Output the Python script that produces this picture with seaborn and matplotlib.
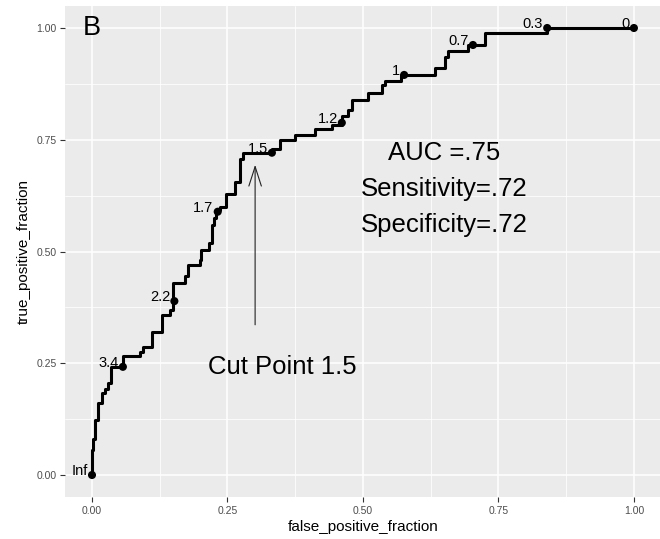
import matplotlib
matplotlib.use("Agg")
import matplotlib.pyplot as plt
import seaborn as sns
import pandas as pd

# ROC step path vertices (false positive fraction, true positive fraction)
fpf = [0.000, 0.0024, 0.006, 0.0105, 0.018, 0.024, 0.029, 0.035, 0.058, 0.089,
       0.095, 0.110, 0.129, 0.144, 0.150, 0.171, 0.178, 0.199, 0.202, 0.215,
       0.221, 0.225, 0.229, 0.236, 0.247, 0.264, 0.274, 0.279, 0.333, 0.347,
       0.375, 0.411, 0.442, 0.461, 0.472, 0.479, 0.510, 0.535, 0.541, 0.571,
       0.633, 0.651, 0.657, 0.694, 0.725, 0.840, 1.000]
tpf = [0.000, 0.056, 0.080, 0.123, 0.160, 0.184, 0.192, 0.205, 0.242, 0.267,
       0.276, 0.287, 0.321, 0.358, 0.369, 0.429, 0.445, 0.470, 0.481, 0.503,
       0.518, 0.559, 0.574, 0.593, 0.600, 0.628, 0.656, 0.708, 0.721, 0.730,
       0.749, 0.761, 0.774, 0.783, 0.803, 0.817, 0.840, 0.855, 0.872, 0.882,
       0.895, 0.910, 0.936, 0.949, 0.962, 0.988, 1.000]

# labelled cutoff points
cut_labels = ["Inf", "3.4", "2.2", "1.7", "1.5", "1.2", "1", "0.7", "0.3", "0"]
cut_fpf = [0.000, 0.057, 0.152, 0.232, 0.332, 0.461, 0.576, 0.703, 0.840, 1.000]
cut_tpf = [0.000, 0.242, 0.389, 0.589, 0.721, 0.788, 0.895, 0.962, 1.000, 1.000]

stats_lines = ["AUC =.75", "Sensitivity=.72", "Specificity=.72"]
cut_text = "Cut Point 1.5"
panel_tag = "B"

sns.set_theme(style="darkgrid")
plt.rcParams.update({
    "axes.facecolor": "#EBEBEB",
    "grid.color": "white",
    "axes.edgecolor": "#EBEBEB",
    "axes.linewidth": 0,
    "xtick.color": "#333333",
    "ytick.color": "#333333",
    "xtick.labelcolor": "#4D4D4D",
    "ytick.labelcolor": "#4D4D4D",
})
plt.rcParams["font.family"] = ["Liberation Sans", "DejaVu Sans"]

fig = plt.figure(figsize=(6.6, 5.39), dpi=100)
fig.patch.set_facecolor("white")
ax = fig.add_axes([64.9 / 660, (539 - 497.35) / 539, (661 - 64.9) / 660, (497.35 - 5.65) / 539])

roc = pd.DataFrame({"false_positive_fraction": fpf, "true_positive_fraction": tpf})
pts = pd.DataFrame({"x": cut_fpf, "y": cut_tpf, "lab": cut_labels})

sns.lineplot(data=roc, x="false_positive_fraction", y="true_positive_fraction",
             sort=False, estimator=None, drawstyle="steps-pre",
             color="black", linewidth=2.2, ax=ax, zorder=3)
sns.scatterplot(data=pts, x="x", y="y", color="black", s=34, edgecolor="none",
                ax=ax, zorder=4)

for _, r in pts.iterrows():
    ax.annotate(r["lab"], (r["x"], r["y"]), xytext=(-3, 3), textcoords="offset points",
                ha="right", va="center", fontsize=10.5, color="black", zorder=5)

ax.set_xlim(-0.05, 1.05)
ax.set_ylim(-0.05, 1.05)
ticks = [0, 0.25, 0.5, 0.75, 1.0]
ax.set_xticks(ticks)
ax.set_yticks(ticks)
ax.set_xticklabels(["0.00", "0.25", "0.50", "0.75", "1.00"], fontsize=7.5)
ax.set_yticklabels(["0.00", "0.25", "0.50", "0.75", "1.00"], fontsize=7.5)
ax.set_xticks([0.125, 0.375, 0.625, 0.875], minor=True)
ax.set_yticks([0.125, 0.375, 0.625, 0.875], minor=True)
ax.grid(which="major", color="white", linewidth=1.1)
ax.grid(which="minor", color="white", linewidth=0.55)
ax.tick_params(which="major", length=3.5, width=0.8, pad=2.5, bottom=True, left=True)
ax.tick_params(which="minor", length=0)
for s in ax.spines.values():
    s.set_visible(False)

ax.set_xlabel("false_positive_fraction", fontsize=11, color="black", labelpad=3)
ax.set_ylabel("true_positive_fraction", fontsize=11, color="black", labelpad=4)

ax.text(0.0, 1.0, panel_tag, fontsize=19.5, ha="center", va="center", color="black")

ys = [0.705, 0.624, 0.544]
for t, yv in zip(stats_lines, ys):
    ax.text(0.65, yv, t, fontsize=18.5, ha="center", va="baseline", color="black")

ax.text(0.351, 0.226, cut_text, fontsize=18.5, ha="center", va="baseline", color="black")

ax.annotate("", xy=(0.301, 0.694), xytext=(0.301, 0.336),
            arrowprops=dict(arrowstyle="->,head_length=1.4,head_width=0.45",
                            mutation_scale=10, color="#222222", linewidth=0.8,
                            shrinkA=0, shrinkB=0))

fig.savefig("out.png", dpi=100, facecolor="white")
